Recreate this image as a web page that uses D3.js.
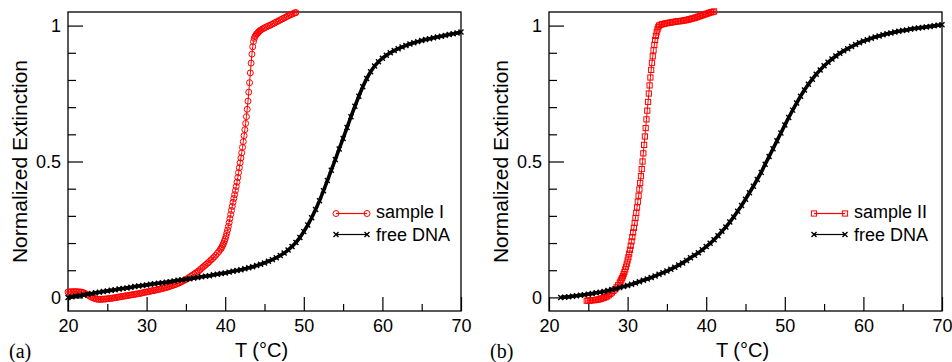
<!DOCTYPE html>
<html>
<head>
<meta charset="utf-8">
<script src="https://cdn.jsdelivr.net/npm/d3@7"></script>
<style>
  body { margin: 0; background: #fff; }
  text { font-family: "Liberation Sans", Arial, Helvetica, sans-serif; }
</style>
</head>
<body>
<div id="chart"></div>
<script>
// ---- data ----
const majorX = [20, 30, 40, 50, 60, 70];
const minorX = [25, 35, 45, 55, 65];
const majorY = [0, 0.5, 1];
const minorY = [0.1, 0.2, 0.3, 0.4, 0.6, 0.7, 0.8, 0.9];

// panel (a): sample I
const sampleI_T = [20,20.2,20.4,20.6,20.8,21,21.2,21.4,21.6,21.8,22,22.2,22.4,22.6,22.8,23,23.2,23.4,23.6,23.8,
  24,24.2,24.4,24.6,24.8,25,25.2,25.4,25.6,25.8,26,26.2,26.4,26.6,26.8,27,27.2,27.4,27.6,27.8,
  28,28.2,28.4,28.6,28.8,29,29.2,29.4,29.6,29.8,30,30.2,30.4,30.6,30.8,31,31.2,31.4,31.6,31.8,
  32,32.2,32.4,32.6,32.8,33,33.2,33.4,33.6,33.8,34,34.2,34.4,34.6,34.8,35,35.2,35.4,35.6,35.8,
  36,36.2,36.4,36.6,36.8,37,37.2,37.4,37.6,37.8,38,38.2,38.4,38.6,38.8,39,39.2,39.4,
  39.5,39.6,39.7,39.8,39.9,40,40.1,40.2,40.3,40.4,40.5,40.6,40.7,40.8,40.9,41,41.1,41.2,41.3,41.4,
  41.5,41.6,41.7,41.8,41.9,42,42.1,42.2,42.3,42.4,42.5,42.6,42.7,42.8,42.9,43,43.1,43.2,43.3,43.4,
  43.5,43.6,43.7,43.8,43.9,44,44.1,44.2,44.3,44.4,44.5,
  44.7,44.9,45.1,45.3,45.5,45.7,45.9,46.1,46.3,46.5,46.7,46.9,47.1,47.3,47.5,47.7,47.9,48.1,48.3,48.5,48.7,48.9,49];
const sampleI_E = [0.020,0.020,0.021,0.021,0.021,0.021,0.021,0.020,0.020,0.019,
  0.017,0.014,0.011,0.008,0.004,0.001,-0.002,-0.004,-0.006,-0.007,
  -0.007,-0.007,-0.007,-0.006,-0.006,-0.005,-0.004,-0.004,-0.003,-0.002,
  -0.001,0.000,0.001,0.002,0.003,0.004,0.005,0.006,0.007,0.008,
  0.009,0.010,0.011,0.012,0.013,0.014,0.015,0.016,0.018,0.019,
  0.020,0.021,0.022,0.024,0.025,0.026,0.027,0.029,0.030,0.031,
  0.033,0.034,0.036,0.037,0.039,0.041,0.043,0.045,0.047,0.049,
  0.052,0.054,0.057,0.060,0.063,0.066,0.069,0.073,0.077,0.081,
  0.085,0.089,0.093,0.097,0.102,0.107,0.112,0.117,0.122,0.127,
  0.132,0.138,0.143,0.149,0.155,0.162,0.169,0.177,
  0.181,0.187,0.193,0.199,0.207,0.215,0.225,0.236,0.248,0.261,
  0.275,0.290,0.305,0.320,0.335,0.350,0.364,0.378,0.393,0.408,
  0.424,0.441,0.459,0.477,0.495,0.513,0.532,0.552,0.573,0.595,
  0.617,0.640,0.665,0.692,0.722,0.755,0.790,0.826,0.862,0.895,
  0.922,0.941,0.953,0.960,0.965,0.969,0.972,0.975,0.978,0.981,0.983,
  0.987,0.990,0.993,0.996,0.999,1.001,1.004,1.007,1.010,1.013,1.016,1.019,1.022,1.025,1.028,1.031,1.034,1.037,1.040,1.042,1.045,1.047,1.048];

// panel (a): free DNA
const freeA_T = [20,20.5,21,21.5,22,22.5,23,23.5,24,24.5,25,25.5,26,26.5,27,27.5,28,28.5,29,29.5,
  30,30.5,31,31.5,32,32.5,33,33.5,34,34.5,35,35.5,36,36.5,37,37.5,38,38.5,39,39.5,
  40,40.5,41,41.5,42,42.5,43,43.5,44,44.5,45,45.5,46,46.5,47,47.5,48,48.5,49,49.5,
  50,50.5,51,51.5,52,52.5,53,53.5,54,54.5,55,55.5,56,56.5,57,57.5,58,58.5,59,59.5,
  60,60.5,61,61.5,62,62.5,63,63.5,64,64.5,65,65.5,66,66.5,67,67.5,68,68.5,69,69.5,70];
const freeA_E = [0.000,0.002,0.005,0.007,0.009,0.012,0.014,0.017,0.019,0.022,
  0.024,0.026,0.028,0.031,0.033,0.035,0.037,0.040,0.042,0.044,
  0.046,0.048,0.050,0.052,0.054,0.056,0.058,0.060,0.063,0.065,
  0.067,0.069,0.071,0.073,0.076,0.078,0.080,0.083,0.085,0.088,
  0.090,0.093,0.096,0.099,0.102,0.105,0.109,0.113,0.117,0.122,
  0.127,0.133,0.139,0.146,0.154,0.163,0.174,0.187,0.202,0.220,
  0.242,0.266,0.293,0.323,0.356,0.392,0.430,0.468,0.507,0.546,
  0.585,0.625,0.665,0.703,0.740,0.775,0.805,0.830,0.851,0.867,
  0.880,0.891,0.900,0.908,0.915,0.921,0.927,0.932,0.937,0.941,
  0.945,0.949,0.952,0.955,0.958,0.961,0.964,0.967,0.970,0.973,0.976];

// panel (b): sample II
const sampleII_T = [24.8,25,25.2,25.4,25.6,25.8,26,26.2,26.4,26.6,26.8,27,27.2,27.4,27.6,27.8,28,28.2,28.4,28.6,28.8,
  29,29.1,29.2,29.3,29.4,29.5,29.6,29.7,29.8,29.9,30,30.1,30.2,30.3,30.4,30.5,30.6,30.7,30.8,30.9,
  31,31.1,31.2,31.3,31.4,31.5,31.6,31.7,31.8,31.9,32,32.1,32.2,32.3,32.4,32.5,32.6,32.7,32.8,32.9,
  33,33.1,33.2,33.3,33.4,33.5,33.6,33.7,33.8,33.9,34,
  34.2,34.4,34.6,34.8,35,35.2,35.4,35.6,35.8,36,36.2,36.4,36.6,36.8,37,37.2,37.4,37.6,37.8,38,
  38.2,38.4,38.6,38.8,39,39.2,39.4,39.6,39.8,40,40.2,40.4,40.6,40.8,41];
const sampleII_E = [-0.012,-0.012,-0.011,-0.011,-0.010,-0.010,-0.009,-0.008,-0.007,-0.005,
  -0.003,-0.001,0.001,0.004,0.008,0.013,0.018,0.024,0.030,0.037,0.045,
  0.054,0.059,0.065,0.071,0.078,0.086,0.094,0.103,0.113,0.124,
  0.136,0.148,0.161,0.175,0.190,0.206,0.222,0.239,0.256,0.274,
  0.292,0.311,0.331,0.352,0.374,0.397,0.421,0.446,0.472,0.500,
  0.530,0.561,0.592,0.623,0.655,0.687,0.719,0.750,0.780,0.809,
  0.837,0.863,0.887,0.909,0.929,0.947,0.962,0.975,0.986,0.994,1.000,
  1.003,1.005,1.006,1.008,1.009,1.010,1.011,1.012,1.013,1.014,
  1.015,1.016,1.016,1.017,1.018,1.019,1.020,1.021,1.023,1.024,
  1.026,1.027,1.029,1.031,1.033,1.035,1.037,1.039,1.041,1.043,
  1.045,1.047,1.049,1.050,1.052];

// panel (b): free DNA
const freeB_T = [21.5,22,22.5,23,23.5,24,24.5,25,25.5,26,26.5,27,27.5,28,28.5,29,29.5,
  30,30.5,31,31.5,32,32.5,33,33.5,34,34.5,35,35.5,36,36.5,37,37.5,38,38.5,39,39.5,
  40,40.5,41,41.5,42,42.5,43,43.5,44,44.5,45,45.5,46,46.5,47,47.5,48,48.5,49,49.5,
  50,50.5,51,51.5,52,52.5,53,53.5,54,54.5,55,55.5,56,56.5,57,57.5,58,58.5,59,59.5,
  60,60.5,61,61.5,62,62.5,63,63.5,64,64.5,65,65.5,66,66.5,67,67.5,68,68.5,69,69.5,70];
const freeB_E = [0.000,0.001,0.002,0.004,0.006,0.008,0.010,
  0.012,0.014,0.017,0.019,0.022,0.025,0.029,0.032,0.036,0.040,
  0.044,0.048,0.053,0.058,0.063,0.068,0.073,0.079,0.085,0.091,
  0.097,0.104,0.111,0.119,0.127,0.136,0.146,0.155,0.164,0.175,
  0.187,0.199,0.212,0.227,0.243,0.259,0.277,0.296,0.317,0.338,
  0.361,0.385,0.409,0.434,0.460,0.490,0.518,0.547,0.576,0.605,
  0.634,0.662,0.689,0.715,0.740,0.763,0.784,0.803,0.821,0.837,
  0.852,0.865,0.877,0.888,0.898,0.907,0.915,0.923,0.930,0.937,
  0.943,0.948,0.953,0.958,0.962,0.966,0.970,0.973,0.976,0.979,
  0.982,0.984,0.987,0.989,0.991,0.993,0.995,0.997,0.999,1.001,1.003];

// ---- layout ----
const width = 952, height = 362;
const plotTop = 12, plotBottom = 311;
const RED = "#ff0000";

const svg = d3.select("#chart").append("svg")
  .attr("width", width)
  .attr("height", height);

const panels = [
  { left: 68, right: 461, tag: "(a)", tagX: 9, sT: sampleI_T, sE: sampleI_E, fT: freeA_T, fE: freeA_E,
    name: "sample I", marker: "circle", legX: 268, legTextX: 308 },
  { left: 549, right: 942, tag: "(b)", tagX: 490, sT: sampleII_T, sE: sampleII_E, fT: freeB_T, fE: freeB_E,
    name: "sample II", marker: "square", legX: 265, legTextX: 305 }
];

const xMark = "M-2.5,-2.5L2.5,2.5M-2.5,2.5L2.5,-2.5";

function addMarker(g, type, cx, cy) {
  if (type === "circle") {
    g.append("circle").attr("cx", cx).attr("cy", cy).attr("r", 3)
      .attr("fill", "none").attr("stroke", RED).attr("stroke-width", 1);
  } else if (type === "square") {
    g.append("rect").attr("x", cx - 2.6).attr("y", cy - 2.6).attr("width", 5.2).attr("height", 5.2)
      .attr("fill", "none").attr("stroke", RED).attr("stroke-width", 1);
  } else {
    g.append("path").attr("d", xMark).attr("transform", "translate(" + cx + "," + cy + ")")
      .attr("stroke", "#000").attr("stroke-width", 1.4);
  }
}

panels.forEach(p => {
  const x = d3.scaleLinear().domain([20, 70]).range([p.left, p.right]);
  const y = d3.scaleLinear().domain([-0.05, 1.05]).range([plotBottom, plotTop]);
  const g = svg.append("g");

  // ticks (inside)
  g.append("g").attr("transform", "translate(0," + plotBottom + ")")
    .call(d3.axisBottom(x).tickValues(majorX).tickSizeInner(-14).tickSizeOuter(0).tickPadding(8.5));
  g.append("g").attr("transform", "translate(0," + plotBottom + ")")
    .call(d3.axisBottom(x).tickValues(minorX).tickSizeInner(-7).tickSizeOuter(0).tickFormat(""));
  g.append("g").attr("transform", "translate(" + p.left + ",0)")
    .call(d3.axisLeft(y).tickValues(majorY).tickSizeInner(-15).tickSizeOuter(0).tickPadding(7)
      .tickFormat(d3.format("")));
  g.append("g").attr("transform", "translate(" + p.left + ",0)")
    .call(d3.axisLeft(y).tickValues(minorY).tickSizeInner(-8).tickSizeOuter(0).tickFormat(""));
  g.selectAll(".domain").remove();
  g.selectAll(".tick line").attr("stroke", "#000").attr("stroke-width", 1.2);
  g.selectAll(".tick text").attr("font-family", "Liberation Sans, Arial, sans-serif")
    .attr("font-size", 18).attr("fill", "#000");

  // frame
  g.append("rect").attr("x", p.left).attr("y", plotTop)
    .attr("width", p.right - p.left).attr("height", plotBottom - plotTop)
    .attr("fill", "none").attr("stroke", "#000").attr("stroke-width", 1.3);

  // sample series (red)
  const sData = p.sT.map((t, i) => [t, p.sE[i]]);
  const line = d3.line().x(d => x(d[0])).y(d => y(d[1]));
  g.append("path").datum(sData).attr("d", line)
    .attr("fill", "none").attr("stroke", RED).attr("stroke-width", 1);
  const sg = g.append("g");
  sData.forEach(d => addMarker(sg, p.marker, x(d[0]), y(d[1])));

  // free DNA (black)
  const fData = p.fT.map((t, i) => [t, p.fE[i]]);
  g.append("path").datum(fData).attr("d", line)
    .attr("fill", "none").attr("stroke", "#000").attr("stroke-width", 3.6);
  const fg = g.append("g");
  fData.forEach(d => addMarker(fg, "x", x(d[0]), y(d[1])));

  // legend
  const lx1 = p.left + p.legX, lx2 = lx1 + 31;
  const lg = g.append("g");
  lg.append("line").attr("x1", lx1).attr("x2", lx2).attr("y1", 213.5).attr("y2", 213.5)
    .attr("stroke", RED).attr("stroke-width", 1.2);
  addMarker(lg, p.marker, lx1, 213.5);
  addMarker(lg, p.marker, lx2, 213.5);
  lg.append("text").attr("x", p.left + p.legTextX).attr("y", 218).attr("font-size", 18).text(p.name);
  lg.append("line").attr("x1", lx1).attr("x2", lx2).attr("y1", 234.5).attr("y2", 234.5)
    .attr("stroke", "#000").attr("stroke-width", 1.2);
  addMarker(lg, "x", lx1, 234.5);
  addMarker(lg, "x", lx2, 234.5);
  lg.append("text").attr("x", p.left + p.legTextX).attr("y", 241).attr("font-size", 18).text("free DNA");

  // axis titles
  g.append("text").attr("x", (p.left + p.right) / 2 - 3).attr("y", 357)
    .attr("text-anchor", "middle").attr("font-size", 20).text("T (°C)");
  g.append("text").attr("transform", "translate(" + (p.left - 41) + "," + ((plotTop + plotBottom) / 2) + ") rotate(-90)")
    .attr("text-anchor", "middle").attr("font-size", 21).text("Normalized Extinction");

  // panel tag
  g.append("text").attr("x", p.tagX).attr("y", 358)
    .style("font-family", "'Liberation Serif', 'Times New Roman', serif")
    .attr("font-size", 20).text(p.tag);
});
</script>
</body>
</html>
